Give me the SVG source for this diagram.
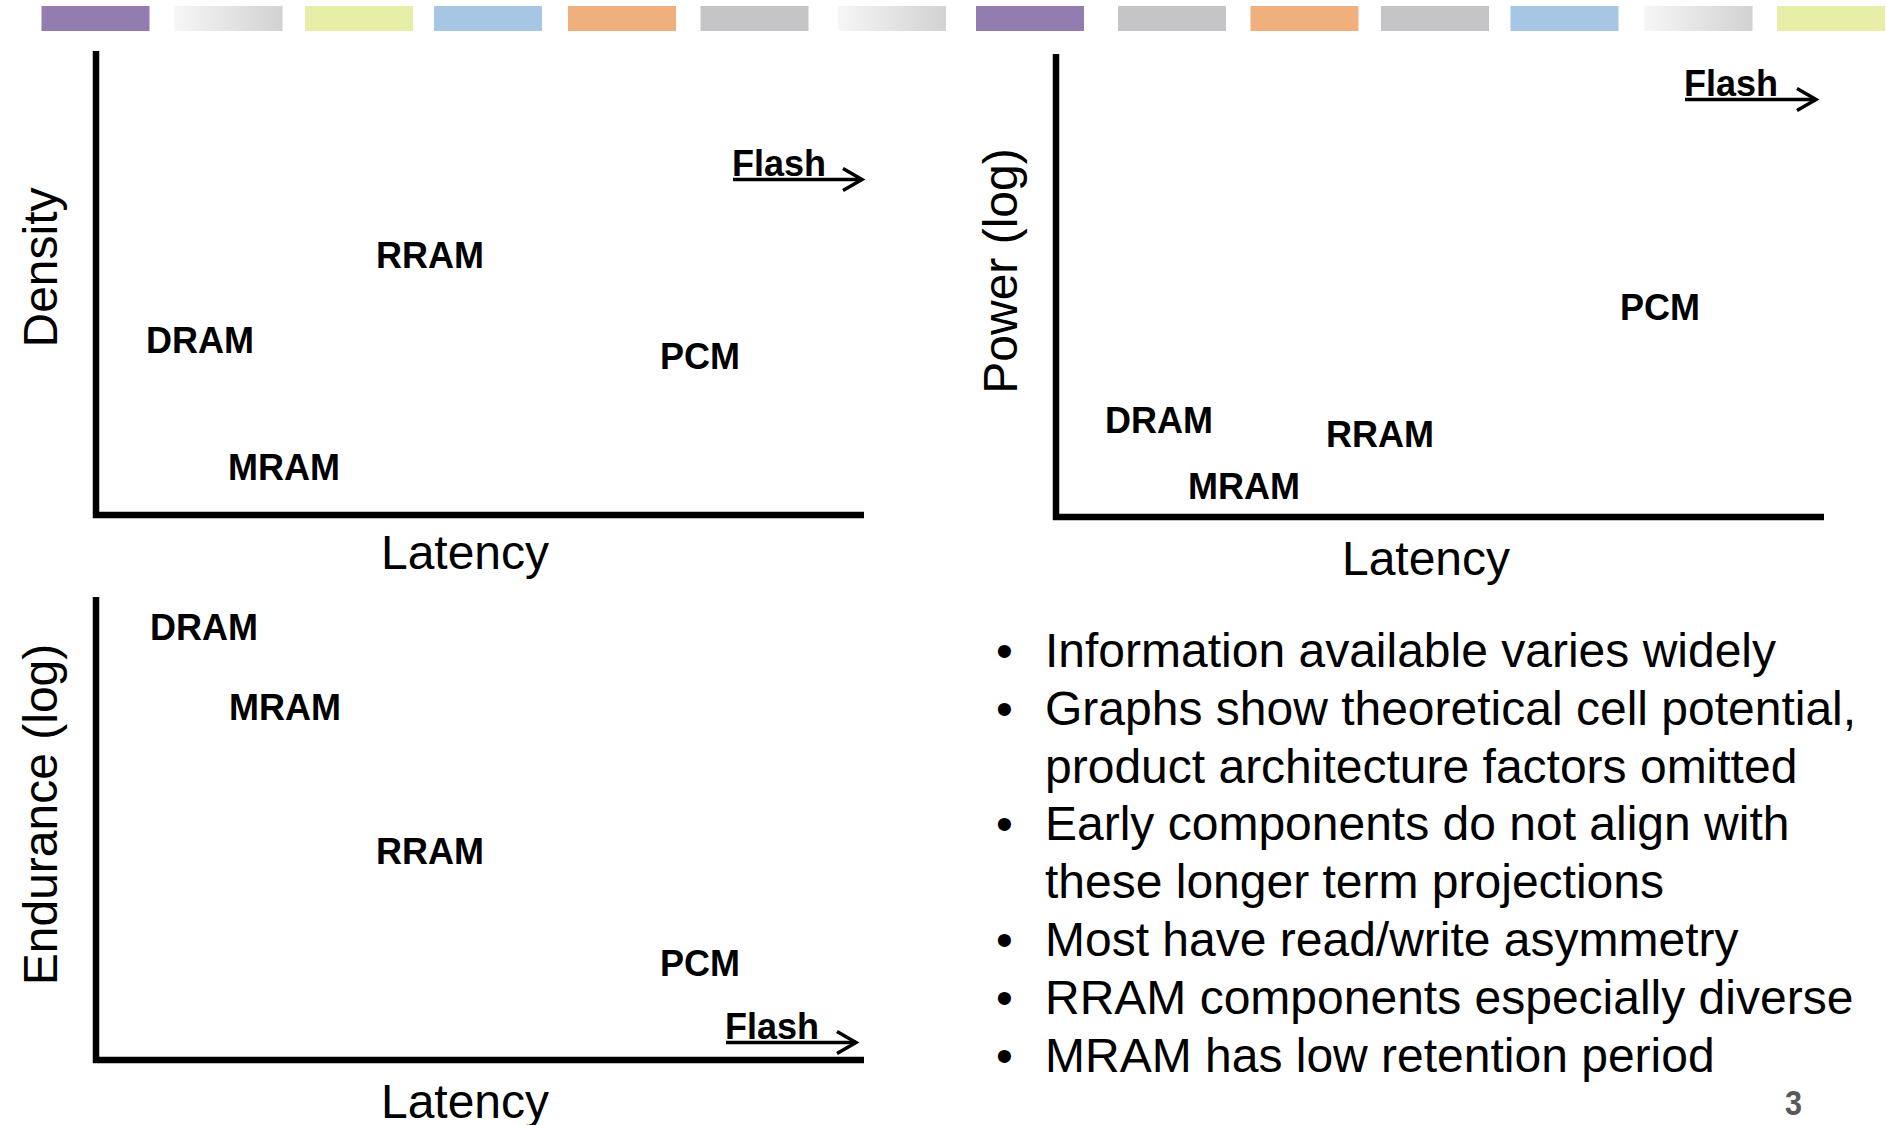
<svg xmlns="http://www.w3.org/2000/svg" width="1886" height="1125" viewBox="0 0 1886 1125">
  <defs>
    <linearGradient id="gfade" x1="0" y1="0" x2="1" y2="0">
      <stop offset="0" stop-color="#f6f6f6"/>
      <stop offset="1" stop-color="#d2d2d2"/>
    </linearGradient>
    <style>
      .axis { stroke: #000; stroke-width: 6.5; fill: none; }
      .pt { font-family: "Liberation Sans", Arial, sans-serif; font-weight: bold; font-size: 36px; fill: #000; }
      .flash { font-family: "Liberation Sans", Arial, sans-serif; font-weight: bold; font-size: 36px; fill: #000; }
      .ax { font-family: "Liberation Sans", Arial, sans-serif; font-size: 48px; fill: #000; }
      .bul { font-family: "Liberation Sans", Arial, sans-serif; font-size: 48px; fill: #000; }
      .arr { stroke: #000; stroke-width: 3.5; fill: none; }
      .pg { font-family: "Liberation Sans", Arial, sans-serif; font-weight: bold; font-size: 36px; fill: #595959; }
    </style>
  </defs>
  <rect width="1886" height="1125" fill="#fff"/>

  <g id="strip">
    <rect x="41.5" y="6" width="108" height="25" fill="#937DB0"/>
    <rect x="174.5" y="6" width="108" height="25" fill="url(#gfade)"/>
    <rect x="305" y="6" width="108" height="25" fill="#E6EEA7"/>
    <rect x="434" y="6" width="108" height="25" fill="#A7C6E4"/>
    <rect x="568" y="6" width="108" height="25" fill="#F0B07E"/>
    <rect x="700.5" y="6" width="108" height="25" fill="#C5C5C7"/>
    <rect x="838" y="6" width="108" height="25" fill="url(#gfade)"/>
    <rect x="976" y="6" width="108" height="25" fill="#937DB0"/>
    <rect x="1118" y="6" width="108" height="25" fill="#C5C5C7"/>
    <rect x="1250.5" y="6" width="108" height="25" fill="#F0B07E"/>
    <rect x="1381" y="6" width="108" height="25" fill="#C5C5C7"/>
    <rect x="1510.5" y="6" width="108" height="25" fill="#A7C6E4"/>
    <rect x="1644.5" y="6" width="108" height="25" fill="url(#gfade)"/>
    <rect x="1777" y="6" width="108" height="25" fill="#E6EEA7"/>
  </g>

  <!-- Chart 1: Density vs Latency -->
  <g id="chart-density">
    <line class="axis" x1="96" y1="51" x2="96" y2="518"/>
    <line class="axis" x1="93" y1="515" x2="864" y2="515"/>
    <text class="ax" text-anchor="middle" x="465" y="569">Latency</text>
    <text class="ax" text-anchor="middle" transform="translate(57,267.5) rotate(-90)">Density</text>
  </g>
  <g id="c1-rram"><text class="pt" x="376" y="268">RRAM</text></g>
  <g id="c1-dram"><text class="pt" x="146" y="353">DRAM</text></g>
  <g id="c1-pcm"><text class="pt" x="660" y="369">PCM</text></g>
  <g id="c1-mram"><text class="pt" x="228" y="480">MRAM</text></g>
  <g id="c1-flash"><text class="flash" x="732" y="175.5">Flash</text></g>

  <!-- Chart 2: Power vs Latency -->
  <g id="chart-power">
    <line class="axis" x1="1056" y1="54" x2="1056" y2="520"/>
    <line class="axis" x1="1053" y1="517" x2="1824" y2="517"/>
    <text class="ax" text-anchor="middle" x="1426" y="575">Latency</text>
    <text class="ax" text-anchor="middle" transform="translate(1017,271) rotate(-90)">Power (log)</text>
  </g>
  <g id="c2-pcm"><text class="pt" x="1620" y="320">PCM</text></g>
  <g id="c2-dram"><text class="pt" x="1105" y="433">DRAM</text></g>
  <g id="c2-rram"><text class="pt" x="1326" y="447">RRAM</text></g>
  <g id="c2-mram"><text class="pt" x="1188" y="499">MRAM</text></g>
  <g id="c2-flash"><text class="flash" x="1684" y="95.5">Flash</text></g>

  <!-- Chart 3: Endurance vs Latency -->
  <g id="chart-endurance">
    <line class="axis" x1="96" y1="597" x2="96" y2="1063"/>
    <line class="axis" x1="93" y1="1060" x2="864" y2="1060"/>
    <text class="ax" text-anchor="middle" x="465" y="1118">Latency</text>
    <text class="ax" text-anchor="middle" transform="translate(57,814.5) rotate(-90)">Endurance (log)</text>
  </g>
  <g id="c3-dram"><text class="pt" x="150" y="640">DRAM</text></g>
  <g id="c3-mram"><text class="pt" x="229" y="720">MRAM</text></g>
  <g id="c3-rram"><text class="pt" x="376" y="864">RRAM</text></g>
  <g id="c3-pcm"><text class="pt" x="660" y="976">PCM</text></g>
  <g id="c3-flash"><text class="flash" x="725" y="1038.5">Flash</text></g>

  <g id="connectors">
    <line class="arr" x1="733" y1="179.5" x2="862" y2="179.5"/>
    <polyline class="arr" points="843,168.5 862,179.5 843,190.5"/>
    <line class="arr" x1="1685" y1="99.5" x2="1816" y2="99.5"/>
    <polyline class="arr" points="1797,88.5 1816,99.5 1797,110.5"/>
    <line class="arr" x1="726" y1="1042.5" x2="856" y2="1042.5"/>
    <polyline class="arr" points="837,1031.5 856,1042.5 837,1053.5"/>
  </g>

  <g id="bullets">
    <text class="bul" x="996" y="667">•</text>
    <text class="bul" x="1045" y="667">Information available varies widely</text>
    <text class="bul" x="996" y="725">•</text>
    <text class="bul" x="1045" y="725">Graphs show theoretical cell potential,</text>
    <text class="bul" x="1045" y="783">product architecture factors omitted</text>
    <text class="bul" x="996" y="840">•</text>
    <text class="bul" x="1045" y="840">Early components do not align with</text>
    <text class="bul" x="1045" y="898">these longer term projections</text>
    <text class="bul" x="996" y="956">•</text>
    <text class="bul" x="1045" y="956">Most have read/write asymmetry</text>
    <text class="bul" x="996" y="1014">•</text>
    <text class="bul" x="1045" y="1014">RRAM components especially diverse</text>
    <text class="bul" x="996" y="1072">•</text>
    <text class="bul" x="1045" y="1072">MRAM has low retention period</text>
  </g>

  <g id="page-number"><text class="pg" x="1785" y="1115" transform="translate(1785,0) scale(0.85,1) translate(-1785,0)">3</text></g>
</svg>
